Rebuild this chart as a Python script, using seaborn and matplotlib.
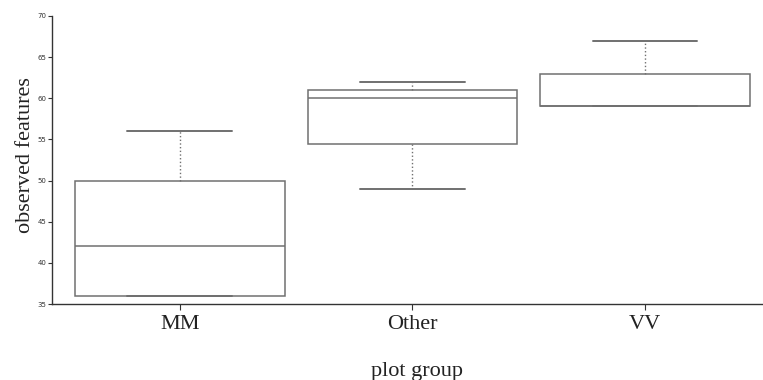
import numpy as np
import pandas as pd
import matplotlib
matplotlib.use('Agg')
import matplotlib.pyplot as plt
import seaborn as sns

# values (min, q1, median, q3, max per group)
groups = ['MM', 'Other', 'VV']
mm_vals = [36, 36, 42, 50, 56]
other_vals = [49, 54.5, 60, 61, 62]
vv_vals = [59, 59, 59, 63, 67]
y_ticks = [35, 40, 45, 50, 55, 60, 65, 70]

df = pd.DataFrame({
    'plot group': ['MM'] * len(mm_vals) + ['Other'] * len(other_vals) + ['VV'] * len(vv_vals),
    'observed features': mm_vals + other_vals + vv_vals,
})

sns.set_style('white')
fig = plt.figure(figsize=(7.63, 3.80), dpi=100)
ax = fig.add_axes([0.068, 0.2, 0.932, 0.758])

line_col = '#707070'
sns.boxplot(data=df, x='plot group', y='observed features', order=groups,
            width=0.9, whis=np.inf, color='white', linecolor=line_col,
            linewidth=1.1, showfliers=False, ax=ax,
            whiskerprops={'linestyle': ':', 'linewidth': 1.0},
            capprops={'linewidth': 1.4},
            medianprops={'linewidth': 1.1})

ax.set_ylim(35, 70)
ax.set_xlim(-0.55, 2.507)
ax.set_yticks(y_ticks)
ax.set_yticklabels([str(t) for t in y_ticks], fontsize=5, color='#333333')
ax.set_xticks(range(len(groups)))
ax.set_xticklabels(groups, fontsize=16, family='Liberation Serif', color='#222222')

for s in ['top', 'right']:
    ax.spines[s].set_visible(False)
for s in ['left', 'bottom']:
    ax.spines[s].set_color('#333333')
    ax.spines[s].set_linewidth(1.0)

ax.tick_params(axis='y', direction='out', length=3, width=0.8, color='#333333', pad=1, left=True)
ax.tick_params(axis='x', direction='out', length=4, width=0.8, color='#333333', pad=4, bottom=True)

ax.set_ylabel('observed features', fontsize=16, family='Liberation Serif', color='#222222')
ax.yaxis.set_label_coords(-0.024, 0.517)
ax.set_xlabel('plot group', fontsize=16, family='Liberation Serif', color='#222222')
ax.xaxis.set_label_coords(0.513, -0.2)

fig.savefig('out.png', dpi=100)
